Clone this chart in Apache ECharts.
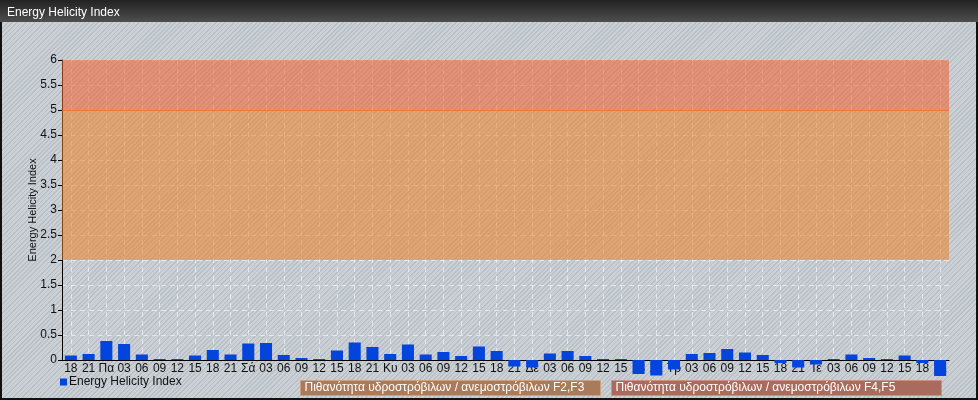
<!DOCTYPE html>
<html>
<head>
<meta charset="utf-8">
<script src="https://cdn.jsdelivr.net/npm/echarts@6/dist/echarts.min.js"></script>
<style>
  html, body { margin: 0; padding: 0; }
  #wrap {
    position: relative; width: 978px; height: 400px; box-sizing: border-box;
    border: 2px solid #111;
    background: repeating-linear-gradient(135deg, #ccd1d6 0px, #ccd1d6 2px, #b8bfc7 2px, #b8bfc7 3.2px);
  }
  #chart { position: absolute; left: -2px; top: -2px; width: 978px; height: 400px; }
</style>
</head>
<body>
<div id="wrap"><div id="chart"></div></div>
<script>
const titleText = "Energy Helicity Index";
const seriesName = "Energy Helicity Index";
const categories = [
  "18","21","Πα","03","06","09","12","15","18","21",
  "Σά","03","06","09","12","15","18","21",
  "Κυ","03","06","09","12","15","18","21",
  "Δε","03","06","09","12","15","18","21",
  "Τρ","03","06","09","12","15","18","21",
  "Τε","03","06","09","12","15","18","21"
];
const values = [
  0.09, 0.12, 0.38, 0.32, 0.11, 0.02, 0.02, 0.09, 0.20, 0.11,
  0.33, 0.34, 0.10, 0.04, 0.02, 0.19, 0.35, 0.26,
  0.12, 0.31, 0.11, 0.16, 0.08, 0.27, 0.18, -0.13,
  -0.15, 0.13, 0.18, 0.08, 0.02, 0.02, -0.28, -0.31,
  -0.19, 0.12, 0.14, 0.22, 0.15, 0.10, -0.06, -0.15,
  -0.09, 0.02, 0.11, 0.04, 0.02, 0.09, -0.06, -0.32
];
const yTicks = { min: 0, max: 6, interval: 0.5 };
const bandF2F3 = [2, 5];
const bandF4F5 = [5, 6];
const boxLabels = [
  "Πιθανότητα υδροστρόβιλων / ανεμοστρόβιλων F2,F3",
  "Πιθανότητα υδροστρόβιλων / ανεμοστρόβιλων F4,F5"
];

const FONT = "'Liberation Sans', Arial, sans-serif";
const chart = echarts.init(document.getElementById('chart'), null, { renderer: 'canvas' });
chart.setOption({
  backgroundColor: 'transparent',
  animation: false,
  textStyle: { fontFamily: FONT },
  grid: { left: 62, right: 29, top: 60, bottom: 40, containLabel: false },
  graphic: [
    {
      type: 'rect', left: 0, top: 0, z: 0,
      shape: { width: 978, height: 22 },
      style: { fill: new echarts.graphic.LinearGradient(0, 0, 0, 1, [
        { offset: 0, color: '#222222' }, { offset: 1, color: '#4e4e4e' }]) }
    },
    {
      type: 'text', left: 7, top: 7, z: 1,
      style: { text: titleText, fill: '#ffffff', font: '12px ' + FONT }
    },
    {
      type: 'group', left: 300, top: 380,
      children: [
        { type: 'rect', shape: { x: 0, y: 0, width: 300, height: 15 },
          style: { fill: '#a97b5b', stroke: '#caa283', lineWidth: 1 } },
        { type: 'text', x: 4, y: 1, style: { text: boxLabels[0], fill: '#ffffff', font: '12px ' + FONT } }
      ]
    },
    {
      type: 'group', left: 611, top: 380,
      children: [
        { type: 'rect', shape: { x: 0, y: 0, width: 330, height: 15 },
          style: { fill: '#a96b5e', stroke: '#c99384', lineWidth: 1 } },
        { type: 'text', x: 4, y: 1, style: { text: boxLabels[1], fill: '#ffffff', font: '12px ' + FONT } }
      ]
    }
  ],
  legend: {
    left: 55, top: 371, itemWidth: 7, itemHeight: 7, itemGap: 10,
    icon: 'rect',
    textStyle: { fontSize: 12, color: '#111', fontFamily: FONT, padding: [2, 0, 0, -3] },
    data: [seriesName]
  },
  xAxis: {
    type: 'category',
    data: categories,
    boundaryGap: true,
    axisLine: { show: true, onZero: true, lineStyle: { color: '#000', width: 1 } },
    axisTick: { show: false },
    axisLabel: { interval: 0, color: '#111', fontSize: 12, margin: 3, fontFamily: FONT },
    splitLine: { show: true, interval: 0, alignWithLabel: true,
      lineStyle: { color: 'rgba(255,255,255,0.55)', type: [5, 4], width: 1 } }
  },
  yAxis: {
    type: 'value',
    min: yTicks.min, max: yTicks.max, interval: yTicks.interval,
    name: 'Energy Helicity Index',
    nameLocation: 'middle', nameRotate: 90, nameGap: 24,
    nameMoveOverlap: false,
    nameTextStyle: { fontSize: 11, color: '#111', fontFamily: FONT },
    axisLine: { show: true, lineStyle: { color: '#000', width: 1 } },
    axisTick: { show: true, length: 4, lineStyle: { color: '#000' } },
    axisLabel: { color: '#111', fontSize: 12, margin: 5, fontFamily: FONT },
    splitLine: { show: true, lineStyle: { color: 'rgba(255,255,255,0.55)', type: [5, 4], width: 1 } }
  },
  series: [{
    name: seriesName,
    type: 'bar',
    data: values,
    clip: false,
    barCategoryGap: '32%',
    itemStyle: { color: '#0344dc', borderColor: '#2a5fe6', borderWidth: 0 },
    markArea: {
      silent: true,
      data: [
        [{ yAxis: bandF2F3[0], itemStyle: { color: 'rgba(236,128,36,0.55)' } }, { yAxis: bandF2F3[1] }],
        [{ yAxis: bandF4F5[0], itemStyle: { color: 'rgba(240,98,50,0.58)' } }, { yAxis: bandF4F5[1] }]
      ]
    },
    markLine: {
      silent: true, symbol: 'none', label: { show: false },
      lineStyle: { color: 'rgba(245,110,45,0.85)', type: 'solid', width: 1 },
      data: [{ yAxis: bandF4F5[0] }]
    }
  }]
});
</script>
</body>
</html>
